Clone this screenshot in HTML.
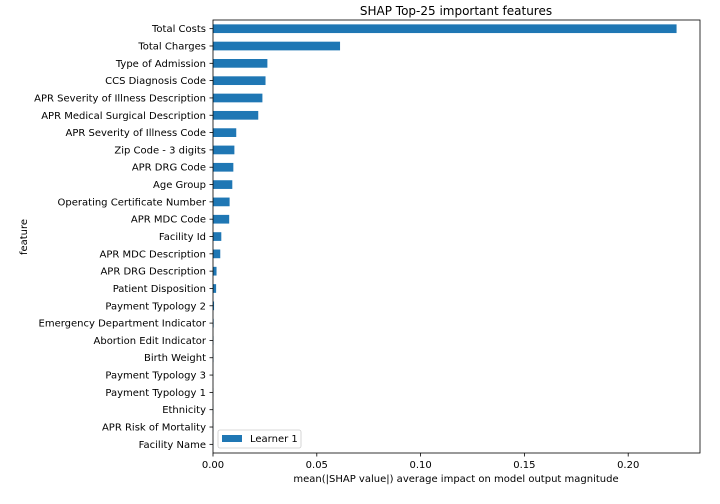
<!DOCTYPE html>
<html><head><meta charset="utf-8"><style>
body{margin:0;background:#fff;}
svg{display:block;font-family:"DejaVu Sans","Liberation Sans",sans-serif;}
</style></head><body>
<svg id="chart" width="720" height="504" viewBox="0 0 720 504">
<text x="456" y="15" text-anchor="middle" font-size="12">SHAP Top-25 important features</text>
<g id="bars"></g>
<g id="yticks"></g>
<g id="xticks"></g>
<rect x="213" y="20" width="487" height="433" fill="none" stroke="#000" stroke-width="0.8"/>
<text transform="translate(27,237) rotate(-90)" text-anchor="middle" font-size="10">feature</text>
<text x="456" y="482" text-anchor="middle" font-size="10">mean(|SHAP value|) average impact on model output magnitude</text>
<g>
<rect x="218" y="430" width="83" height="18" rx="2" fill="#fff" stroke="#ccc" stroke-width="0.8"/>
<rect x="222" y="435" width="20" height="7" fill="#1f77b4"/>
<text x="250" y="442" font-size="10">Learner 1</text>
</g>
</svg>
<script>
const features = ["Total Costs","Total Charges","Type of Admission","CCS Diagnosis Code","APR Severity of Illness Description","APR Medical Surgical Description","APR Severity of Illness Code","Zip Code - 3 digits","APR DRG Code","Age Group","Operating Certificate Number","APR MDC Code","Facility Id","APR MDC Description","APR DRG Description","Patient Disposition","Payment Typology 2","Emergency Department Indicator","Abortion Edit Indicator","Birth Weight","Payment Typology 3","Payment Typology 1","Ethnicity","APR Risk of Mortality","Facility Name"];
const values = [0.2233,0.0612,0.0262,0.0253,0.0238,0.0218,0.0112,0.0103,0.0098,0.0093,0.0080,0.0078,0.0040,0.0035,0.0017,0.0015,0.0005,0.0003,0.0002,0.0002,0.0001,0.0001,0.0001,0.0001,0.0001];
const xTicks = [0,0.05,0.10,0.15,0.20];
const xTickLabels = ["0.00","0.05","0.10","0.15","0.20"];
const NS="http://www.w3.org/2000/svg";
const x0=213, xPer=2076, plotTop=20, step=433/25;
const xs=v=>x0+v*xPer;
const ys=i=>plotTop+step*(i+0.5);
const bars=document.getElementById('bars'), yt=document.getElementById('yticks'), xt=document.getElementById('xticks');
features.forEach((f,i)=>{
  const r=document.createElementNS(NS,'rect');
  
  
  r.setAttribute('x',x0);r.setAttribute('y',ys(i)-4.3);
  r.setAttribute('width',Math.max(0,xs(values[i])-x0));r.setAttribute('height',8.7);
  r.setAttribute('fill','#1f77b4');bars.appendChild(r);
  const l=document.createElementNS(NS,'line');
  
  
  l.setAttribute('x1',x0-3.5);l.setAttribute('x2',x0);l.setAttribute('y1',ys(i));l.setAttribute('y2',ys(i));
  l.setAttribute('stroke','#000');l.setAttribute('stroke-width','0.8');yt.appendChild(l);
  const t=document.createElementNS(NS,'text');
  
  
  t.setAttribute('x',x0-7);t.setAttribute('y',ys(i)+3.5);t.setAttribute('text-anchor','end');t.setAttribute('font-size','10');
  t.textContent=f;yt.appendChild(t);
});
xTicks.forEach((v,i)=>{
  const l=document.createElementNS(NS,'line');
  
  
  l.setAttribute('x1',xs(v));l.setAttribute('x2',xs(v));l.setAttribute('y1',453);l.setAttribute('y2',456.5);
  l.setAttribute('stroke','#000');l.setAttribute('stroke-width','0.8');xt.appendChild(l);
  const t=document.createElementNS(NS,'text');
  
  
  t.setAttribute('x',xs(v));t.setAttribute('y',468);t.setAttribute('text-anchor','middle');t.setAttribute('font-size','10');
  t.textContent=xTickLabels[i];xt.appendChild(t);
});
</script>
</body></html>
